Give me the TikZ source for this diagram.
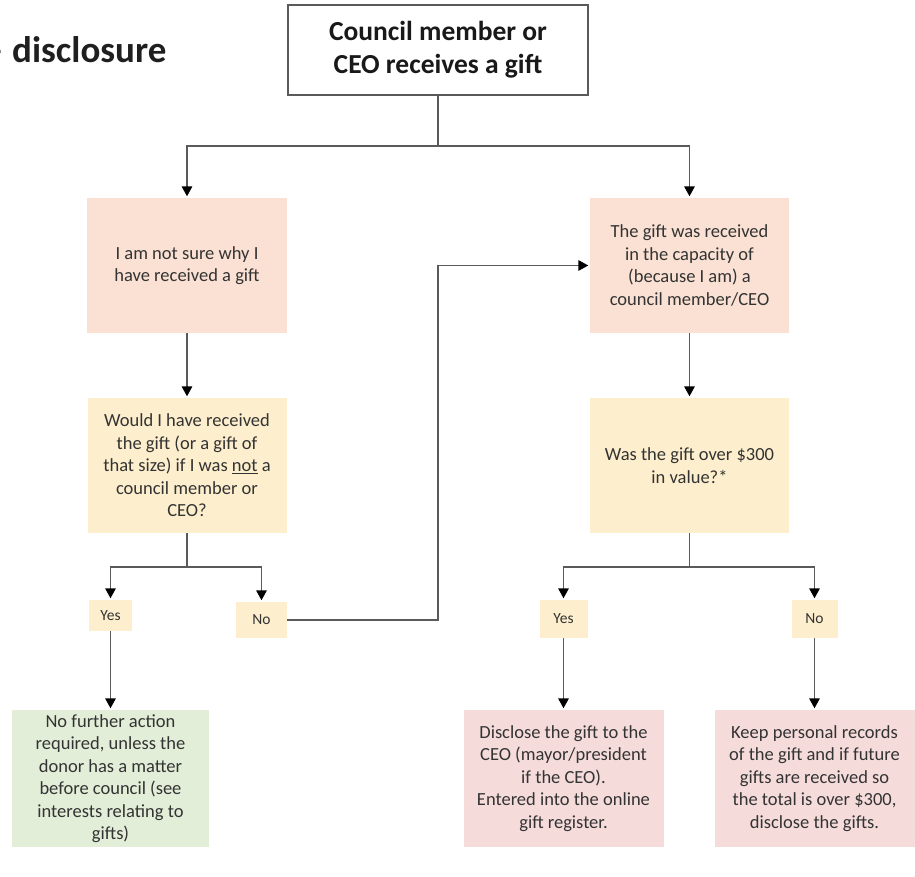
\documentclass[tikz,border=0pt]{standalone}
\usepackage{fontspec}
\setmainfont{Carlito}
\usetikzlibrary{arrows.meta}
\definecolor{peach}{HTML}{FAE1D3}
\definecolor{butter}{HTML}{FDEFCD}
\definecolor{sage}{HTML}{E3EED8}
\definecolor{rose}{HTML}{F5DCDB}
\definecolor{linegray}{HTML}{5A5A5A}
\definecolor{textgray}{HTML}{333333}
\tikzset{
  box/.style={inner sep=0pt, align=center, text=textgray,
    font=\fontsize{18.5}{22.5}\selectfont},
  lbl/.style={inner sep=0pt, align=center, text=textgray, fill=butter,
    font=\fontsize{15.5}{18}\selectfont},
  conn/.style={draw=linegray, line width=1.6pt},
  arr/.style={conn, -{Triangle[length=10pt,width=10.5pt,color=black]}, shorten >=1.5pt},
}
\begin{document}
\begin{tikzpicture}[x=1pt,y=-1pt]
\useasboundingbox (0,0) rectangle (915,876);
% title
\node[anchor=base west, inner sep=0pt, text=black!88,
  font=\fontsize{37}{40}\selectfont\bfseries] (title) at (12,62) {disclosure};
\node[anchor=base east, inner sep=0pt, text=black!88,
  font=\fontsize{37}{40}\selectfont\bfseries] (dash) at ([xshift=-8.4pt]title.base west) {–};
% top box
\node[draw=linegray, line width=1.6pt, fill=white, inner sep=0pt, align=center,
  text=black!90, font=\fontsize{27.5}{33}\selectfont\bfseries,
  minimum width=300pt, minimum height=90pt] (top) at (438,50)
  {Council member or\\CEO receives a gift};
% left column
\node[box, fill=peach, minimum width=200pt, minimum height=135pt] (A) at (187,265.5)
  {I am not sure why I\\have received a gift};
\node[box, fill=butter, minimum width=199pt, minimum height=135pt] (C) at (187,465.5)
  {Would I have received\\the gift (or a gift of\\that size) if I was \underline{not} a\\council member or\\CEO?};
\node[lbl, minimum width=43pt, minimum height=31pt] (YesL) at (110.5,615.5) {Yes};
\node[lbl, minimum width=51pt, minimum height=36pt] (NoL) at (261.5,620) {No};
\node[box, fill=sage, minimum width=197pt, minimum height=137pt] (G) at (110.5,778.5)
  {No further action\\required, unless the\\donor has a matter\\before council (see\\interests relating to\\gifts)};
% right column
\node[box, fill=peach, minimum width=199pt, minimum height=135pt] (B) at (689.5,265.5)
  {The gift was received\\in the capacity of\\(because I am) a\\council member/CEO};
\node[box, fill=butter, minimum width=199pt, minimum height=135pt] (D) at (689.5,465.5)
  {Was the gift over \$300\\in value?*};
\node[lbl, minimum width=48pt, minimum height=38pt] (YesR) at (563.5,619) {Yes};
\node[lbl, minimum width=46pt, minimum height=38pt] (NoR) at (814.5,619) {No};
\node[box, fill=rose, minimum width=200pt, minimum height=137pt] (P1) at (563.5,778.5)
  {Disclose the gift to the\\CEO (mayor/president\\if the CEO).\\Entered into the online\\gift register.};
\node[box, fill=rose, minimum width=200pt, minimum height=137pt] (P2) at (814.5,778.5)
  {Keep personal records\\of the gift and if future\\gifts are received so\\the total is over \$300,\\disclose the gifts.};
% junctions
\coordinate (j1) at (438,146);
\coordinate (j2) at (187,567);
\coordinate (j3) at (438,400);
\coordinate (j4) at (689.5,567);
% connectors
\draw[conn] (top.south) -- (j1);
\draw[arr] (j1) -| (A.north);
\draw[arr] (j1) -| (B.north);
\draw[arr] (A.south) -- (C.north);
\draw[conn] (C.south) -- (j2);
\draw[arr] (j2) -| (YesL.north);
\draw[arr] (j2) -| (NoL.north);
\draw[arr] (NoL.east) -| (j3) |- (B.west);
\draw[arr] (YesL.south) -- (G.north);
\draw[arr] (B.south) -- (D.north);
\draw[conn] (D.south) -- (j4);
\draw[arr] (j4) -| (YesR.north);
\draw[arr] (j4) -| (NoR.north);
\draw[arr] (YesR.south) -- (P1.north);
\draw[arr] (NoR.south) -- (P2.north);
\end{tikzpicture}
\end{document}
